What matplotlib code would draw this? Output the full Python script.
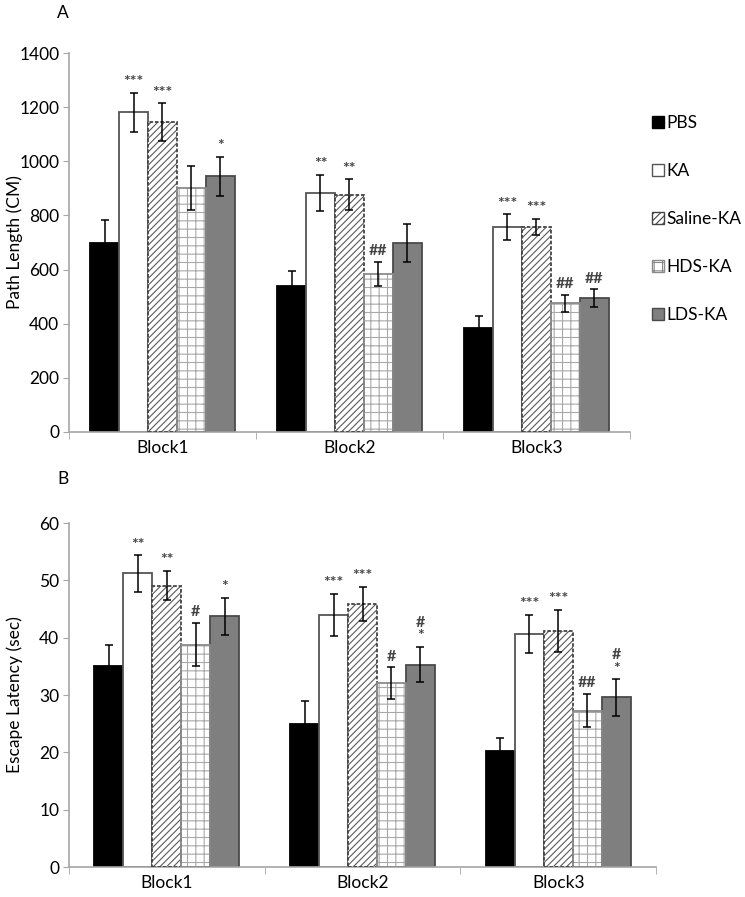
import numpy as np
import matplotlib
matplotlib.use('Agg')
import matplotlib.pyplot as plt
from matplotlib.patches import Patch

plt.rcParams['font.family'] = ['Lato', 'DejaVu Sans']
plt.rcParams['hatch.linewidth'] = 0.8

# --- DATA ---
blocks = ['Block1', 'Block2', 'Block3']
groups = ['PBS', 'KA', 'Saline-KA', 'HDS-KA', 'LDS-KA']

# Panel A: path length (cm)
path_mean = {
    'PBS':       [698, 540, 385],
    'KA':        [1181, 884, 756],
    'Saline-KA': [1145, 877, 758],
    'HDS-KA':    [901, 584, 475],
    'LDS-KA':    [944, 697, 494],
}
path_err = {
    'PBS':       [84, 55, 45],
    'KA':        [72, 67, 48],
    'Saline-KA': [69, 56, 30],
    'HDS-KA':    [80, 45, 32],
    'LDS-KA':    [73, 70, 33],
}
path_sig = {
    'PBS':       ['', '', ''],
    'KA':        ['***', '**', '***'],
    'Saline-KA': ['***', '**', '***'],
    'HDS-KA':    ['', '##', '##'],
    'LDS-KA':    ['*', '', '##'],
}

# Panel B: escape latency (sec)
lat_mean = {
    'PBS':       [35.0, 25.0, 20.3],
    'KA':        [51.2, 44.0, 40.7],
    'Saline-KA': [49.1, 45.9, 41.2],
    'HDS-KA':    [38.8, 32.1, 27.3],
    'LDS-KA':    [43.7, 35.3, 29.6],
}
lat_err = {
    'PBS':       [3.7, 4.0, 2.2],
    'KA':        [3.2, 3.7, 3.3],
    'Saline-KA': [2.6, 3.0, 3.7],
    'HDS-KA':    [3.8, 2.8, 2.9],
    'LDS-KA':    [3.3, 3.1, 3.2],
}
lat_sig = {
    'PBS':       ['', '', ''],
    'KA':        ['**', '***', '***'],
    'Saline-KA': ['**', '***', '***'],
    'HDS-KA':    ['#', '#', '##'],
    'LDS-KA':    ['*', '#\n*', '#\n*'],
}

# --- STYLES ---
styles = {
    'PBS':       dict(color='black', edgecolor='black', hatch=None, outline='black'),
    'KA':        dict(color='white', edgecolor='#555555', hatch=None, outline='#555555'),
    'Saline-KA': dict(color='white', edgecolor='#5a5a5a', hatch='/////', outline='#444444'),
    'HDS-KA':    dict(color='white', edgecolor='#a8a8a8', hatch='++', outline='#8a8a8a'),
    'LDS-KA':    dict(color='#7f7f7f', edgecolor='#4a4a4a', hatch=None, outline='#4a4a4a'),
}
axis_gray = '#a6a6a6'
FS = 12.5


def draw_panel(ax, means, errs, sigs, width, ymax, ystep, sig_pad):
    x = np.arange(len(blocks))
    for i, g in enumerate(groups):
        st = styles[g]
        pos = x + (i - 2) * width
        ax.bar(pos, means[g], width, color=st['color'], edgecolor=st['edgecolor'],
               hatch=st['hatch'], linewidth=0 if st['hatch'] else 1.3, zorder=2)
        if st['hatch']:
            ax.bar(pos, means[g], width, facecolor='none', edgecolor=st['outline'],
                   linewidth=1.3, linestyle=(0, (2, 1)) if g == 'Saline-KA' else '-', zorder=3)
        ax.errorbar(pos, means[g], yerr=errs[g], fmt='none', ecolor='black',
                    elinewidth=1.1, capsize=3, capthick=1.1, zorder=4)
        for p, m, e, s in zip(pos, means[g], errs[g], sigs[g]):
            if s:
                ax.text(p, m + e + sig_pad, s, ha='center', va='bottom', fontsize=11.5,
                        color='#444444', linespacing=0.95, fontweight='bold')
    ax.set_xlim(-0.5, len(blocks) - 0.5)
    ax.set_ylim(0, ymax)
    ax.set_yticks(np.arange(0, ymax + 1, ystep))
    ax.set_xticks(x)
    ax.set_xticklabels(blocks, fontsize=FS)
    ax.set_xticks(np.arange(-0.5, len(blocks)), minor=True)
    ax.tick_params(axis='x', which='major', length=0, pad=6)
    ax.tick_params(axis='x', which='minor', length=5, color=axis_gray, direction='out')
    ax.tick_params(axis='y', length=4, color=axis_gray, labelsize=FS, pad=3)
    for side in ['top', 'right']:
        ax.spines[side].set_visible(False)
    for side in ['left', 'bottom']:
        ax.spines[side].set_color(axis_gray)
        ax.spines[side].set_linewidth(1.2)


fig = plt.figure(figsize=(7.45, 8.97), dpi=100)

axA = fig.add_axes([0.0926, 0.5184, 0.753, 0.4225])
draw_panel(axA, path_mean, path_err, path_sig, 0.155, 1400, 200, 14)
axA.set_ylabel('Path Length (CM)', fontsize=FS)
axA.yaxis.set_label_coords(-0.082, 0.5)

axB = fig.add_axes([0.0926, 0.0334, 0.788, 0.3835])
draw_panel(axB, lat_mean, lat_err, lat_sig, 0.148, 60, 10, 0.6)
axB.set_ylabel('Escape Latency (sec)', fontsize=FS)
axB.yaxis.set_label_coords(-0.078, 0.5)

fig.text(0.085, 1 - 13 / 897, 'A', fontsize=FS, ha='center', va='center')
fig.text(0.085, 1 - 479 / 897, 'B', fontsize=FS, ha='center', va='center')

handles = []
for g in groups:
    st = styles[g]
    handles.append(Patch(facecolor=st['color'], edgecolor=st['outline'], hatch=st['hatch'],
                         linewidth=1.0))
fig.legend(handles, groups, loc='upper left', bbox_to_anchor=(0.866, 1 - 108 / 897),
           frameon=False, fontsize=FS, handlelength=0.7, handleheight=0.7,
           handletextpad=0.15, labelspacing=1.85, borderaxespad=0)

fig.savefig('out.png', dpi=100)
